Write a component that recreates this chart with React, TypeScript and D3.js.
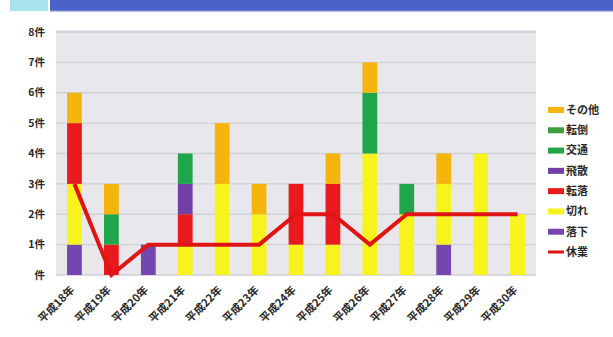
import React from "react";
import * as d3 from "d3";

const years = ["平成18年", "平成19年", "平成20年", "平成21年", "平成22年", "平成23年", "平成24年", "平成25年", "平成26年", "平成27年", "平成28年", "平成29年", "平成30年"];

// Stacked categories, bottom to top
const rakka = [1, 0, 1, 0, 0, 0, 0, 0, 0, 0, 1, 0, 0];      // 落下
const kire = [2, 0, 0, 1, 3, 2, 1, 1, 4, 2, 2, 4, 2];       // 切れ
const tenraku = [2, 1, 0, 1, 0, 0, 2, 2, 0, 0, 0, 0, 0];    // 転落
const hisan = [0, 0, 0, 1, 0, 0, 0, 0, 0, 0, 0, 0, 0];      // 飛散
const koutsu = [0, 1, 0, 1, 0, 0, 0, 0, 2, 1, 0, 0, 0];     // 交通
const tentou = [0, 0, 0, 0, 0, 0, 0, 0, 0, 0, 0, 0, 0];     // 転倒
const sonota = [1, 1, 0, 0, 2, 1, 0, 1, 1, 0, 1, 0, 0];     // その他
// Lost-time cases (line)
const kyugyo = [3, 0, 1, 1, 1, 1, 2, 2, 1, 2, 2, 2, 2];     // 休業

const yTicks = [0, 1, 2, 3, 4, 5, 6, 7, 8];

const seriesKeys = ["落下", "切れ", "転落", "飛散", "交通", "転倒", "その他"];
const seriesValues = [rakka, kire, tenraku, hisan, koutsu, tentou, sonota];
const seriesColors = ["#7446b0", "#f6f41c", "#e81a1e", "#7040a8", "#1fa54a", "#3d9c3d", "#f5b50c"];
const lineColor = "#e01414";

const W = 613;
const H = 337;
const plot = { left: 56, right: 536, top: 30, bottom: 275 };

export default function App() {
  const x = d3.scaleBand<string>().domain(years).range([plot.left, plot.right]).paddingInner(0.6).paddingOuter(0.3);
  const y = d3.scaleLinear().domain([0, 8]).range([plot.bottom, 32]);

  const rows = years.map((yr, i) => {
    const r: Record<string, any> = { year: yr };
    seriesKeys.forEach((k, j) => (r[k] = seriesValues[j][i]));
    return r;
  });
  const stacked = d3.stack<any>().keys(seriesKeys)(rows);

  const cx = (yr: string) => (x(yr) as number) + x.bandwidth() / 2;
  const linePath = d3.line<number>().x((_, i) => cx(years[i])).y((v) => y(v))(kyugyo) as string;

  const legendItems = [
    ...seriesKeys.map((k, j) => ({ name: k, color: seriesColors[j], line: false })).reverse(),
    { name: "休業", color: lineColor, line: true },
  ];
  const legendY = d3.scalePoint<string>().domain(legendItems.map((d) => d.name)).range([110, 252]);

  const font = "'Noto Sans CJK JP', 'Noto Sans', sans-serif";

  return (
    <svg width={W} height={H} style={{ position: "absolute", left: 0, top: 0 }} fontFamily={font}>
      <rect width={W} height={H} fill="#ffffff" />
      {/* header band */}
      <rect x={10} y={0} width={38} height={11} fill="#a9e1ec" />
      <rect x={50} y={0} width={W - 50} height={11} fill="#4b63c6" />
      <rect x={50} y={10} width={W - 50} height={2} fill="#8796d8" opacity={0.6} />

      {/* plot area */}
      <rect x={plot.left} y={plot.top} width={plot.right - plot.left} height={plot.bottom - plot.top} fill="#e8e8ec" />
      {yTicks.map((t) => (
        <line key={t} x1={plot.left} x2={plot.right} y1={y(t)} y2={y(t)} stroke="#cfcfd6" strokeWidth={1.4} />
      ))}
      {yTicks.map((t) => (
        <text key={"l" + t} x={45} y={y(t)} dy="0.35em" textAnchor="end" fontSize={10.5} fontWeight={700} fill="#2a2a2a">
          {t === 0 ? "件" : `${t}件`}
        </text>
      ))}

      {/* stacked bars */}
      {stacked.map((s, j) => (
        <g key={s.key} fill={seriesColors[j]}>
          {s.map((d, i) =>
            d[1] - d[0] > 0 ? (
              <rect key={i} x={x(years[i])} y={y(d[1])} width={x.bandwidth()} height={y(d[0]) - y(d[1])} />
            ) : null
          )}
        </g>
      ))}

      {/* lost-time line */}
      <path d={linePath} fill="none" stroke={lineColor} strokeWidth={4} strokeLinejoin="miter" />

      {/* x labels */}
      {years.map((yr) => (
        <text
          key={yr}
          transform={`translate(${cx(yr) - 2},${plot.bottom + 13}) rotate(-45)`}
          textAnchor="end"
          dy="0.35em"
          fontSize={11}
          fontWeight={700}
          fill="#2a2a2a"
        >
          {yr}
        </text>
      ))}

      {/* legend */}
      {legendItems.map((d) => {
        const ly = legendY(d.name) as number;
        return (
          <g key={d.name}>
            <line x1={548} x2={564} y1={ly} y2={ly} stroke={d.color} strokeWidth={d.line ? 3 : 6} />
            <text x={566} y={ly} dy="0.35em" fontSize={11} fontWeight={700} fill="#2a2a2a">
              {d.name}
            </text>
          </g>
        );
      })}
    </svg>
  );
}
